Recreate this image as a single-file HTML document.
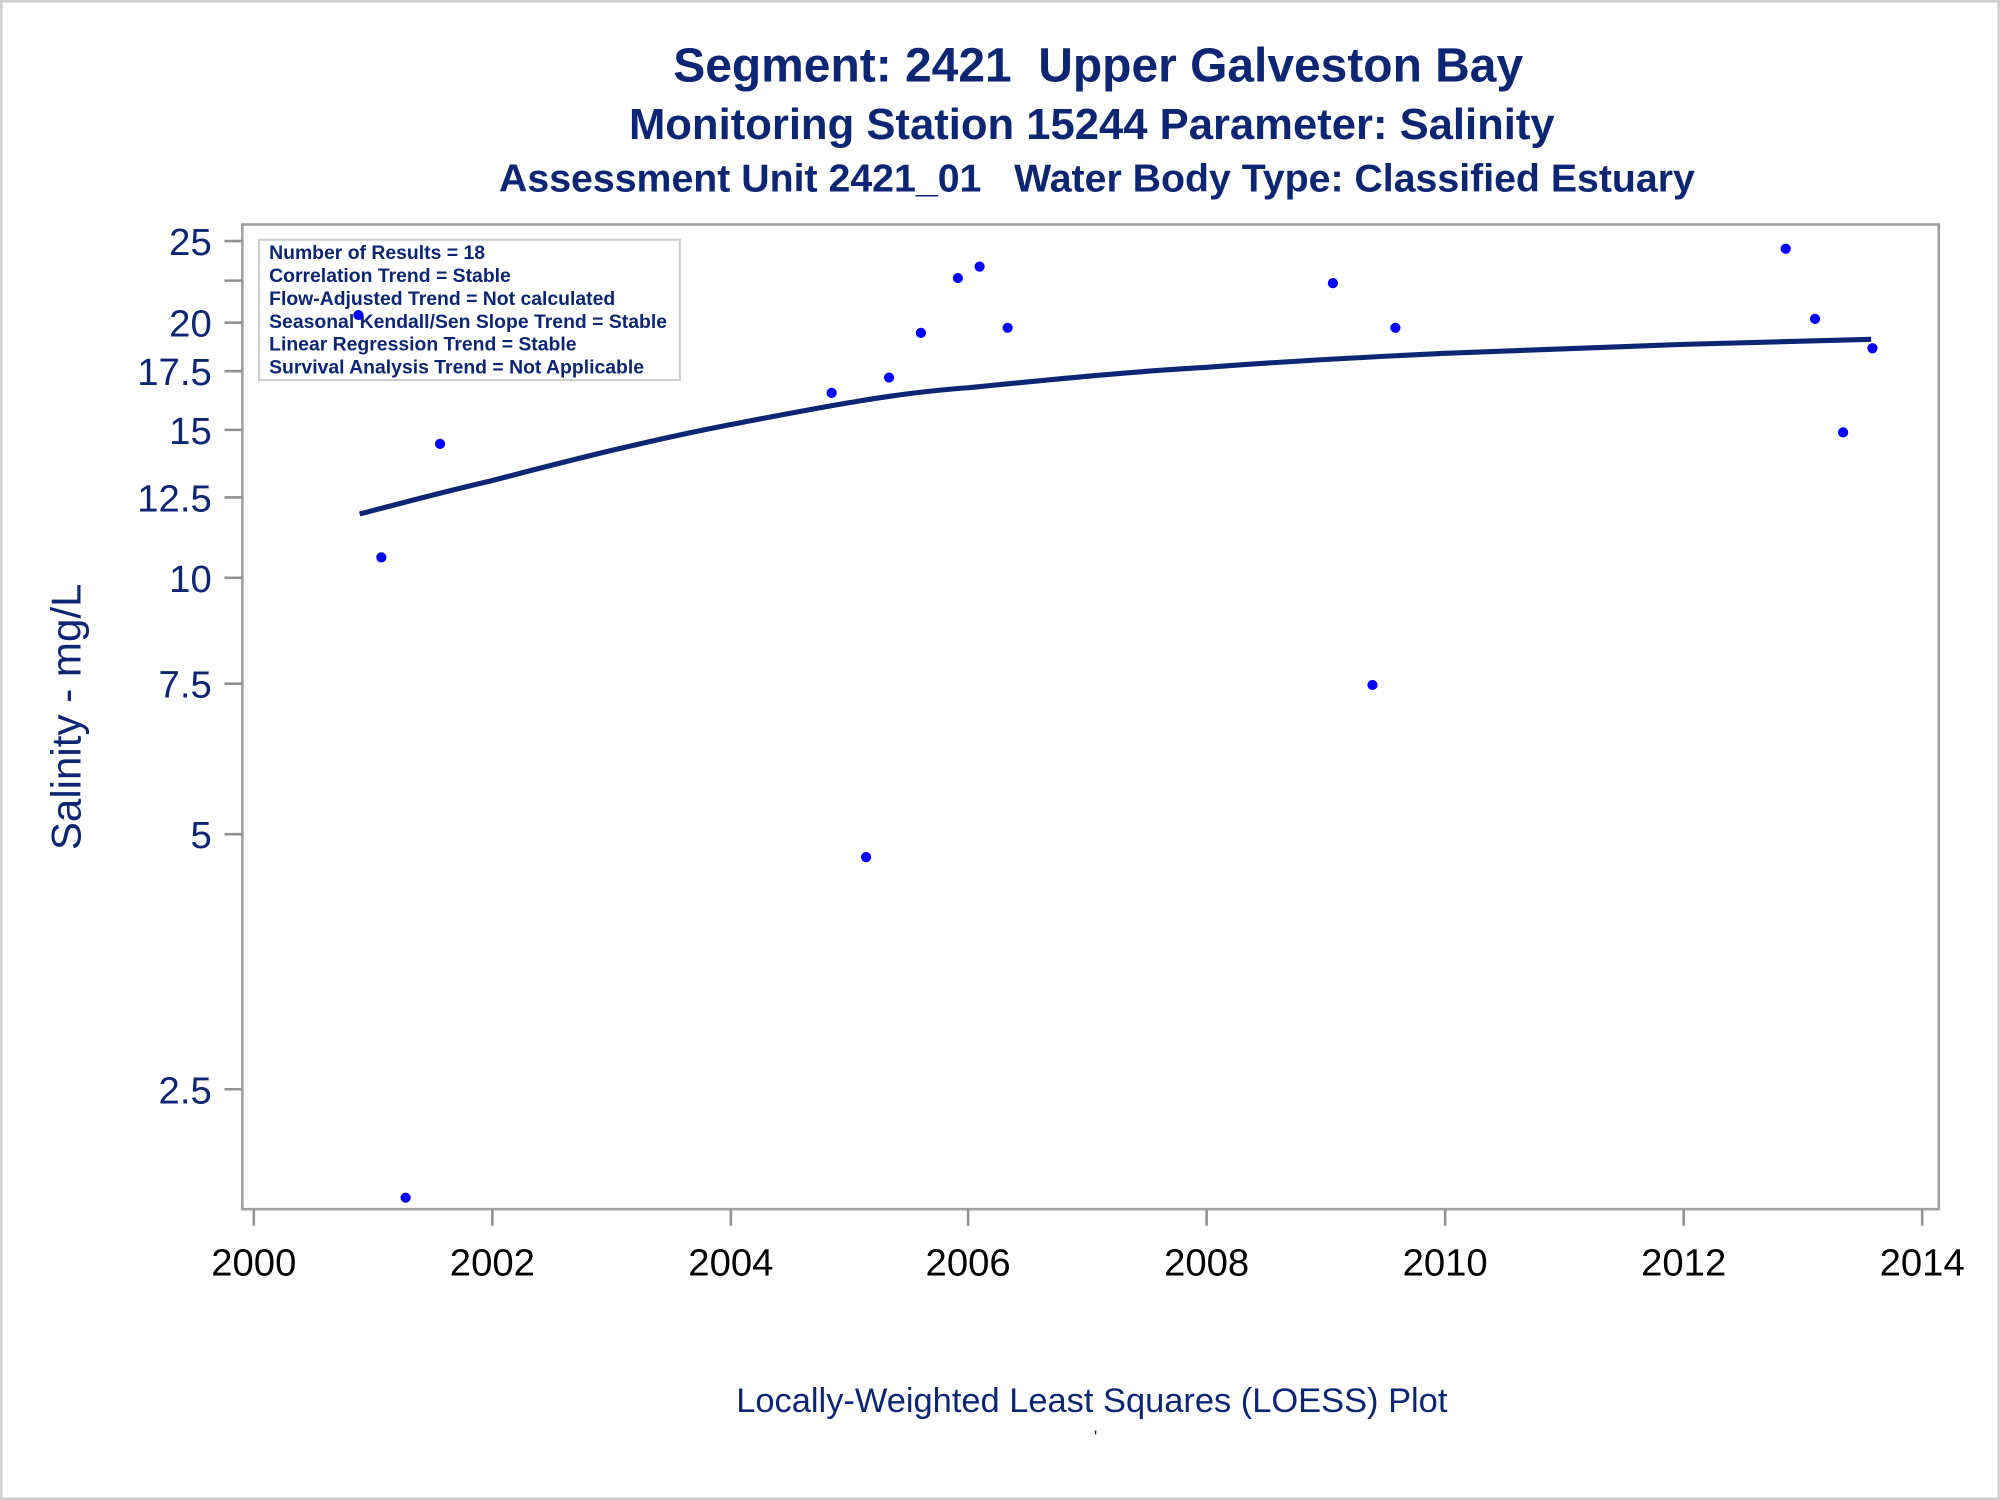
<!DOCTYPE html>
<html><head><style>html,body{margin:0;padding:0;background:#fff}svg{display:block}text{white-space:pre}</style></head>
<body>
<svg width="2000" height="1500" viewBox="0 0 1568 1176" xmlns="http://www.w3.org/2000/svg" font-family="Liberation Sans, Arial, sans-serif" xml:space="preserve">
<rect x="1" y="1" width="1566" height="1174" fill="#fff" stroke="#d0d0d0" stroke-width="2"/>
<g fill="#0c2673" text-anchor="middle" font-weight="bold">
<text x="861" y="64" font-size="37.6">Segment: 2421  Upper Galveston Bay</text>
<text x="856" y="109" font-size="34.2">Monitoring Station 15244 Parameter: Salinity</text>
<text x="860" y="150" font-size="30.8">Assessment Unit 2421_01   Water Body Type: Classified Estuary</text>
</g>
<rect x="190" y="176" width="1330" height="772" fill="none" stroke="#a0a0a0" stroke-width="2"/>
<g stroke="#909090" stroke-width="2">
<line x1="176" y1="189" x2="190" y2="189"/><line x1="176" y1="220" x2="190" y2="220"/>
<line x1="176" y1="253" x2="190" y2="253"/><line x1="176" y1="291" x2="190" y2="291"/>
<line x1="176" y1="337" x2="190" y2="337"/><line x1="176" y1="390" x2="190" y2="390"/>
<line x1="176" y1="453" x2="190" y2="453"/><line x1="176" y1="536" x2="190" y2="536"/>
<line x1="176" y1="654" x2="190" y2="654"/><line x1="176" y1="854" x2="190" y2="854"/>
<line x1="199" y1="948" x2="199" y2="961"/><line x1="386" y1="948" x2="386" y2="961"/>
<line x1="573" y1="948" x2="573" y2="961"/><line x1="759" y1="948" x2="759" y2="961"/>
<line x1="946" y1="948" x2="946" y2="961"/><line x1="1133" y1="948" x2="1133" y2="961"/>
<line x1="1320" y1="948" x2="1320" y2="961"/><line x1="1507" y1="948" x2="1507" y2="961"/>
</g>
<g fill="#0c2673" font-size="30" text-anchor="end">
<text x="166" y="200">25</text><text x="166" y="264">20</text><text x="166" y="302">17.5</text>
<text x="166" y="348">15</text><text x="166" y="401">12.5</text><text x="166" y="464">10</text>
<text x="166" y="547">7.5</text><text x="166" y="665">5</text><text x="166" y="865">2.5</text>
</g>
<g fill="#000" font-size="30" text-anchor="middle">
<text x="199" y="1000">2000</text><text x="386" y="1000">2002</text><text x="573" y="1000">2004</text>
<text x="759" y="1000">2006</text><text x="946" y="1000">2008</text><text x="1133" y="1000">2010</text>
<text x="1320" y="1000">2012</text><text x="1507" y="1000">2014</text>
</g>
<text transform="translate(63,562) rotate(-90)" fill="#0c2673" font-size="33" text-anchor="middle">Salinity - mg/L</text>
<text x="856" y="1107" fill="#0c2673" font-size="27" text-anchor="middle">Locally-Weighted Least Squares (LOESS) Plot</text>
<text x="859" y="1131" fill="#0c2673" font-size="14" text-anchor="middle">'</text>
<rect x="203" y="188" width="330" height="110" fill="#fff" stroke="#cccccc" stroke-width="1.5"/>
<g fill="#0c2673" font-size="15.2" font-weight="bold">
<text x="211" y="203">Number of Results = 18</text>
<text x="211" y="221">Correlation Trend = Stable</text>
<text x="211" y="239">Flow-Adjusted Trend = Not calculated</text>
<text x="211" y="257">Seasonal Kendall/Sen Slope Trend = Stable</text>
<text x="211" y="275">Linear Regression Trend = Stable</text>
<text x="211" y="293">Survival Analysis Trend = Not Applicable</text>
</g>
<path d="M282,403 C320,393 350,385 385,377 C450,360 510,345 572,333 C640,320 700,308 759,304 C830,297 890,291 946,288 C1010,283 1070,280 1133,277 C1200,274 1260,272 1320,270 C1380,268 1430,267 1467,266" fill="none" stroke="#0c2673" stroke-width="4"/>
<g fill="#0000ff">
<circle cx="281" cy="247" r="4"/><circle cx="299" cy="437" r="4"/><circle cx="318" cy="939" r="4"/>
<circle cx="345" cy="348" r="4"/><circle cx="652" cy="308" r="4"/><circle cx="679" cy="672" r="4"/>
<circle cx="697" cy="296" r="4"/><circle cx="722" cy="261" r="4"/><circle cx="751" cy="218" r="4"/>
<circle cx="768" cy="209" r="4"/><circle cx="790" cy="257" r="4"/><circle cx="1045" cy="222" r="4"/>
<circle cx="1076" cy="537" r="4"/><circle cx="1094" cy="257" r="4"/><circle cx="1400" cy="195" r="4"/>
<circle cx="1423" cy="250" r="4"/><circle cx="1445" cy="339" r="4"/><circle cx="1468" cy="273" r="4"/>
</g>
</svg>
</body></html>
